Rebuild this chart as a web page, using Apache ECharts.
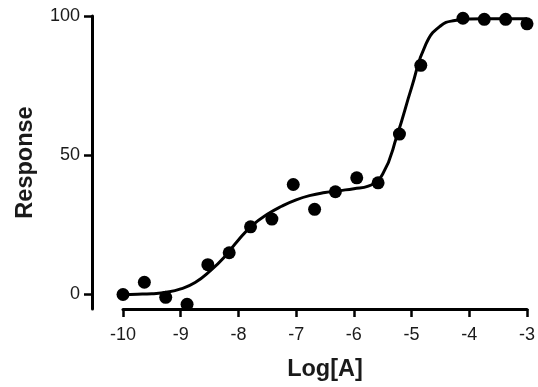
<!DOCTYPE html>
<html>
<head>
<meta charset="utf-8">
<script src="https://cdn.jsdelivr.net/npm/echarts@6/dist/echarts.min.js"></script>
<style>
  html, body { margin: 0; padding: 0; background: #fff; }
  #chart { width: 538px; height: 387px; }
</style>
</head>
<body>
<div id="chart"></div>
<script>
// measured points (log concentration, response)
const pointX = [-10, -9.63, -9.26, -8.89, -8.53, -8.16, -7.79, -7.42, -7.05, -6.68,
  -6.32, -5.95, -5.58, -5.21, -4.84, -4.11, -3.74, -3.37, -3.0];
const pointY = [0, 4.4, -1.0, -3.5, 10.7, 15.0, 24.3, 27.1, 39.5, 30.6,
  36.9, 41.9, 40.1, 57.6, 82.3, 99.2, 98.8, 98.8, 97.2];

// fitted biphasic curve, every 0.25 log units
const curveX = [-10, -9.75, -9.5, -9.25, -9, -8.75, -8.5, -8.25, -8, -7.75, -7.5,
  -7.25, -7, -6.75, -6.5, -6.25, -6, -5.75, -5.5, -5.25, -5, -4.75, -4.5, -4.25,
  -4, -3.75, -3.5, -3.25, -3];
const curveY = [0.0, 0.1, 0.3, 0.8, 2.0, 4.3, 8.3, 13.3, 19.6, 25.0, 28.8,
  31.7, 34.0, 35.6, 36.6, 37.3, 38.0, 38.9, 43.3, 57.2, 74.3, 90.0, 96.4, 98.4,
  98.9, 99.0, 99.0, 99.0, 99.0];

const yTicks = [0, 50, 100];

const chart = echarts.init(document.getElementById("chart"), null, { renderer: "canvas" });

const axisFont = { fontFamily: "Liberation Sans, Arial, sans-serif", color: "#1a1a1a" };

chart.setOption({
  backgroundColor: "#fff",
  animation: false,
  grid: { left: 123, right: 2, top: 16, bottom: 74 },
  xAxis: {
    type: "value",
    min: -10,
    max: -3,
    interval: 1,
    name: "Log[A]",
    nameLocation: "middle",
    nameGap: 49,
    nameTextStyle: { ...axisFont, fontSize: 23.5, fontWeight: "bold" },
    axisLine: { onZero: false, lineStyle: { color: "#000", width: 3 } },
    axisTick: { length: 8, lineStyle: { color: "#000", width: 2.5 } },
    axisLabel: { ...axisFont, fontSize: 18, margin: 17 },
    splitLine: { show: false },
  },
  yAxis: {
    type: "value",
    min: -5.2,
    max: 100,
    offset: 31,
    name: "Response",
    nameLocation: "middle",
    nameGap: 54,
    nameTextStyle: { ...axisFont, fontSize: 23.5, fontWeight: "bold" },
    axisLine: { show: true, lineStyle: { color: "#000", width: 3 } },
    axisTick: { show: true, length: 8, customValues: yTicks, lineStyle: { color: "#000", width: 2.5 } },
    axisLabel: { ...axisFont, fontSize: 18, margin: 12, customValues: yTicks },
    splitLine: { show: false },
  },
  series: [
    {
      type: "line",
      data: curveX.map((x, i) => [x, curveY[i]]),
      smooth: 0.5,
      showSymbol: false,
      lineStyle: { color: "#000", width: 3 },
      z: 2,
    },
    {
      type: "scatter",
      data: pointX.map((x, i) => [x, pointY[i]]),
      symbolSize: 13,
      clip: false,
      itemStyle: { color: "#000", opacity: 1 },
      z: 3,
    },
  ],
});
</script>
</body>
</html>
